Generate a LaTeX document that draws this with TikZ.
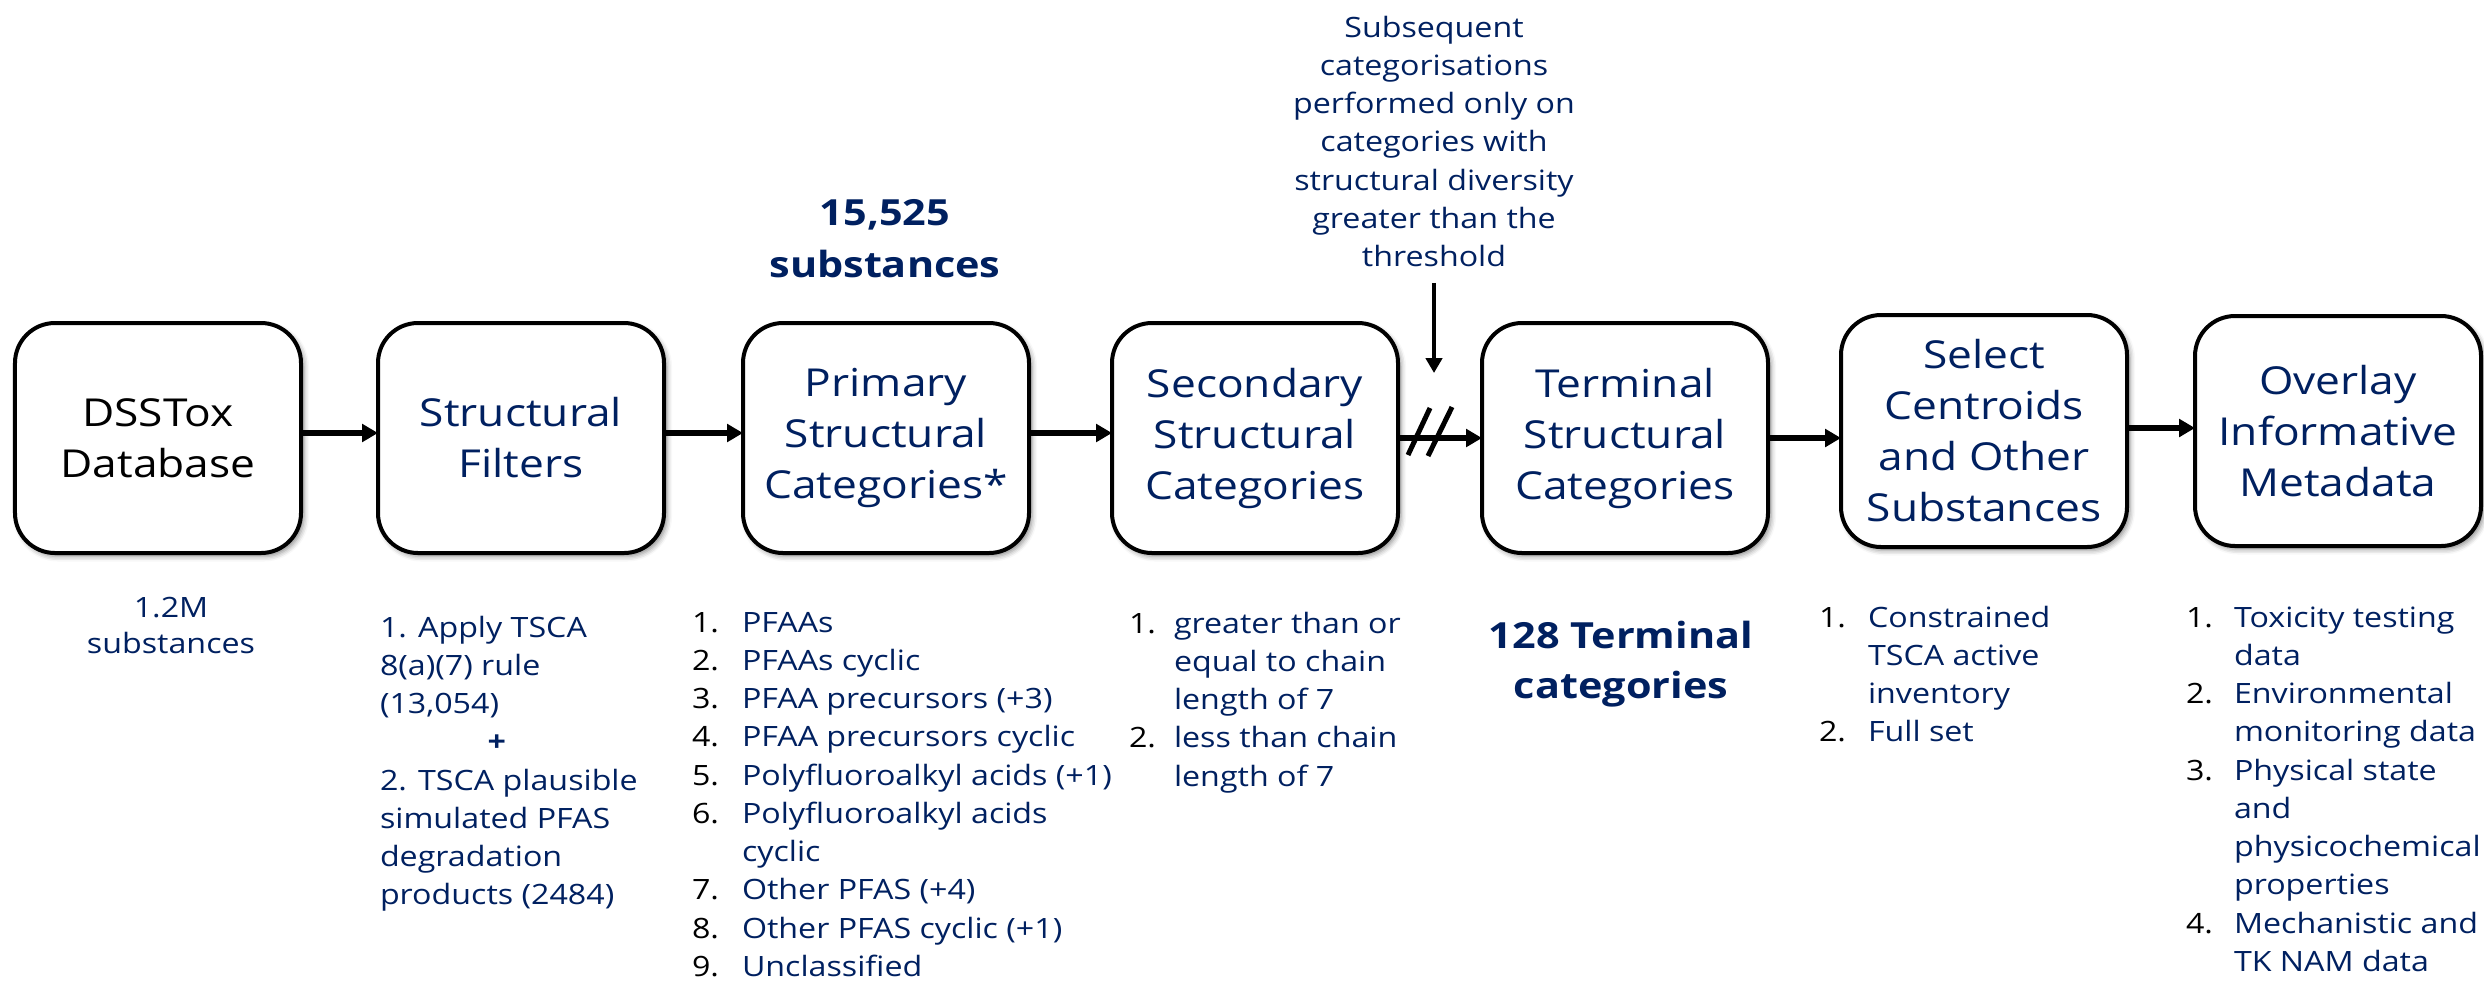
\documentclass[tikz,border=0pt]{standalone}
\usepackage{fontspec}
\setmainfont{Open Sans}[FakeStretch=1.15]
\usetikzlibrary{arrows.meta,shadows.blur}
\definecolor{navy}{RGB}{0,32,96}

\newcommand{\boxtitlefont}{\fontsize{15.4}{20.4}\selectfont}
\newcommand{\itemfont}{\fontsize{11.2}{15.3}\selectfont}
\newcommand{\headfont}{\fontsize{14.4}{20.8}\selectfont\bfseries}
\newcommand{\itemno}[2][19.6pt]{\makebox[#1][l]{\color{black}#2}}

\begin{document}
\begin{tikzpicture}[x=0.4pt,y=-0.4pt,
  stage/.style={draw=black, line width=1.6pt, fill=white, rounded corners=16pt,
    minimum width=114.4pt, minimum height=92pt, inner sep=0pt, outer sep=0pt,
    align=center, text=navy, font=\boxtitlefont,
    blur shadow={shadow xshift=1.2pt, shadow yshift=-1.4pt,
      shadow blur radius=2pt, shadow opacity=45}},
  itemlist/.style={inner sep=0pt, outer sep=0pt, text=navy, font=\itemfont},
  headline/.style={inner sep=0pt, outer sep=0pt, text=navy, font=\headfont},
  flow/.style={-{Triangle[length=6.4pt,width=7pt]}, line width=2.2pt},
  feed/.style={-{Triangle[length=6pt,width=6.5pt]}, line width=1.6pt},
  slash/.style={line width=2pt}]

\useasboundingbox (0,0) rectangle (2484,981);

% pipeline stages
\node[stage, text=black] (b1) at (158,438) {DSSTox\\Database};
\node[stage] (b2) at (521,438) {Structural\\Filters};
\node[stage] (b3) at (886,438) {Primary\\Structural\\Categories*};
\node[stage] (b4) at (1255,438) {Secondary\\Structural\\Categories};
\node[stage] (b5) at (1625,438) {Terminal\\Structural\\Categories};
\node[stage, minimum height=92.8pt] (b6) at (1984,431) {Select\\Centroids\\and Other\\Substances};
\node[stage] (b7) at (2338,431) {Overlay\\Informative\\Metadata};

% connectors
\draw[flow] ([yshift=2pt]b1.east) -- ([yshift=2pt]b2.west);
\draw[flow] ([yshift=2pt]b2.east) -- ([yshift=2pt]b3.west);
\draw[flow] ([yshift=2pt]b3.east) -- ([yshift=2pt]b4.west);
\draw[flow] (b4.east) -- (b5.west);
\draw[flow] (b5.east) -- (b5.east -| b6.west);
\draw[flow] ([yshift=1.2pt]b6.east) -- ([yshift=1.2pt]b7.west);

% break marks on the secondary -> terminal link
\draw[slash] (1408,455) -- (1430,408);
\draw[slash] (1428,456) -- (1452,407);

% note on subsequent categorisation
\node[itemlist, anchor=base] (note) at (1434,37) {\begin{tabular}[t]{@{}c@{}}Subsequent\\categorisations\\performed only on\\categories with\\structural diversity\\greater than the\\threshold\end{tabular}};
\coordinate (cut) at (1434,373);
\draw[feed] ([yshift=-2pt]note.south) -- (cut);

% counts
\node[headline, anchor=base] (n15) at (885,225) {\begin{tabular}[t]{@{}c@{}}15,525\\substances\end{tabular}};
\node[headline, font=\fontsize{14.4}{20}\selectfont\bfseries, anchor=base] (n128) at (1621,648) {\begin{tabular}[t]{@{}c@{}}128 Terminal\\categories\end{tabular}};
\node[itemlist, font=\fontsize{11.2}{14.4}\selectfont, anchor=base] (n12) at (171,617) {\begin{tabular}[t]{@{}c@{}}1.2M\\substances\end{tabular}};

% stage details
\node[itemlist, anchor=base west] (l2) at (380,637) {\begin{tabular}[t]{@{}l@{}}1. Apply TSCA\\8(a)(7) rule\\(13,054)\\\hspace*{43pt}\textbf{+}\\2. TSCA plausible\\simulated PFAS\\degradation\\products (2484)\end{tabular}};

\node[itemlist, anchor=base west] (l3) at (692,632) {\begin{tabular}[t]{@{}l@{}}
\itemno[20pt]{1.}PFAAs\\
\itemno[20pt]{2.}PFAAs cyclic\\
\itemno[20pt]{3.}PFAA precursors (+3)\\
\itemno[20pt]{4.}PFAA precursors cyclic\\
\itemno[20pt]{5.}Polyfluoroalkyl acids (+1)\\
\itemno[20pt]{6.}Polyfluoroalkyl acids\\
\itemno[20pt]{}cyclic\\
\itemno[20pt]{7.}Other PFAS (+4)\\
\itemno[20pt]{8.}Other PFAS cyclic (+1)\\
\itemno[20pt]{9.}Unclassified
\end{tabular}};

\node[itemlist, anchor=base west] (l4) at (1129,633) {\begin{tabular}[t]{@{}l@{}}
\itemno[18pt]{1.}greater than or\\
\itemno[18pt]{}equal to chain\\
\itemno[18pt]{}length of 7\\
\itemno[18pt]{2.}less than chain\\
\itemno[18pt]{}length of 7
\end{tabular}};

\node[itemlist, anchor=base west] (l6) at (1819,627) {\begin{tabular}[t]{@{}l@{}}
\itemno{1.}Constrained\\
\itemno{}TSCA active\\
\itemno{}inventory\\
\itemno{2.}Full set
\end{tabular}};

\node[itemlist, anchor=base west] (l7) at (2186,627) {\begin{tabular}[t]{@{}l@{}}
\itemno[19.2pt]{1.}Toxicity testing\\
\itemno[19.2pt]{}data\\
\itemno[19.2pt]{2.}Environmental\\
\itemno[19.2pt]{}monitoring data\\
\itemno[19.2pt]{3.}Physical state\\
\itemno[19.2pt]{}and\\
\itemno[19.2pt]{}physicochemical\\
\itemno[19.2pt]{}properties\\
\itemno[19.2pt]{4.}Mechanistic and\\
\itemno[19.2pt]{}TK NAM data
\end{tabular}};
\end{tikzpicture}
\end{document}
